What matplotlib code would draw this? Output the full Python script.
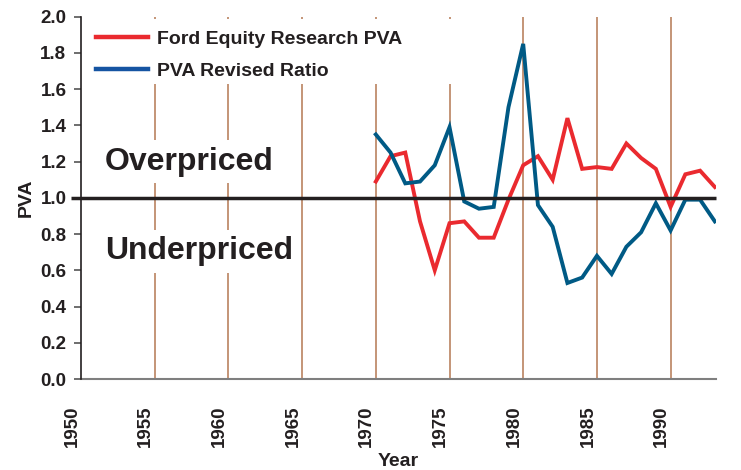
import matplotlib
matplotlib.use("Agg")
import matplotlib.pyplot as plt
import matplotlib.transforms as mtransforms
from matplotlib.lines import Line2D
from matplotlib.patches import Rectangle

years = list(range(1970, 1994))
ford_pva = [1.09, 1.23, 1.25, 0.87, 0.60, 0.86, 0.87, 0.78, 0.78, 0.99,
            1.18, 1.23, 1.10, 1.44, 1.16, 1.17, 1.16, 1.30, 1.22, 1.16,
            0.95, 1.13, 1.15, 1.06]
revised_ratio = [1.35, 1.25, 1.08, 1.09, 1.18, 1.39, 0.98, 0.94, 0.95, 1.50,
                 1.85, 0.96, 0.84, 0.53, 0.56, 0.68, 0.58, 0.73, 0.81, 0.97,
                 0.82, 0.99, 0.99, 0.87]
xtick_years = [1950, 1955, 1960, 1965, 1970, 1975, 1980, 1985, 1990]
grid_years = [1955, 1960, 1965, 1970, 1975, 1980, 1985, 1990]
yticks = [0.0, 0.2, 0.4, 0.6, 0.8, 1.0, 1.2, 1.4, 1.6, 1.8, 2.0]
series_labels = ["Ford Equity Research PVA", "PVA Revised Ratio"]

plt.rcParams['font.family'] = ['Liberation Sans', 'DejaVu Sans']
plt.rcParams['font.weight'] = 'bold'
TXT = '#231f20'
RED = '#ea2a2f'
BLUE = '#005a85'
BLUE_LEG = '#1554a2'
VCOL = '#bf8c6c'

fig = plt.figure(figsize=(7.41, 4.70), dpi=100)
ax = fig.add_axes([81/741, 1-379/470, 635/741, (379-16.7)/470])
ax.set_xlim(1950, 1993.08)
ax.set_ylim(0, 2.0)

for gy in grid_years:
    ax.axvline(gy, color=VCOL, lw=1.3, zorder=1)

# white box behind legend
ax.add_patch(Rectangle((1950.05, 1.627), 26.5, 0.358, facecolor='white',
                       edgecolor='none', zorder=1.5))

ax.plot(years, ford_pva, color=RED, lw=2.8, zorder=3, solid_joinstyle='miter')
ax.plot(years, revised_ratio, color=BLUE, lw=2.8, zorder=3, solid_joinstyle='miter')

# thick reference line at 1.0 extending beyond axis
ax.plot([-0.016, 1.0], [1.0, 1.0], transform=ax.get_yaxis_transform(),
        color='#231f20', lw=2.5, zorder=4, clip_on=False, solid_capstyle='butt')

for label, yv in [("Overpriced", 1.20), ("Underpriced", 0.705)]:
    ax.text(1951.63, yv, label, fontsize=23, fontweight='bold', color=TXT,
            va='center', ha='left', zorder=2,
            bbox=dict(boxstyle='square,pad=0.2', facecolor='white', edgecolor='none'))

handles = [Line2D([], [], color=RED, lw=3.2), Line2D([], [], color=BLUE_LEG, lw=3.2)]
leg = ax.legend(handles, series_labels, loc='upper left',
                bbox_to_anchor=(0.0236, 0.962), borderaxespad=0, borderpad=0,
                frameon=False, handlelength=2.68, handletextpad=0.46,
                labelspacing=0.72, prop=dict(size=14, weight='bold'))
for t in leg.get_texts():
    t.set_color(TXT)

for s in ['top', 'right']:
    ax.spines[s].set_visible(False)
ax.spines['left'].set_color('#231f20')
ax.spines['left'].set_linewidth(1.2)
ax.spines['bottom'].set_color('#7f7f7f')
ax.spines['bottom'].set_linewidth(1.5)
ax.spines['left'].set_zorder(5)

ax.set_yticks(yticks)
ax.set_yticklabels([f"{v:.1f}" for v in yticks], fontweight='bold')
ax.tick_params(axis='y', direction='out', length=5, width=1.2, color='#555555',
               labelsize=13.5, labelcolor=TXT, pad=5.5)

ax.set_xticks(xtick_years)
ax.set_xticklabels([str(y) for y in xtick_years], rotation=90, fontweight='bold',
                   fontsize=13.5)
ax.tick_params(axis='x', length=0, labelcolor=TXT, pad=19)
off = mtransforms.ScaledTranslation(-9/100, 0, fig.dpi_scale_trans)
for lbl in ax.get_xticklabels():
    lbl.set_transform(lbl.get_transform() + off)

ax.set_xlabel("Year", fontsize=14, fontweight='bold', color=TXT, labelpad=4)
ax.set_ylabel("PVA", fontsize=14, fontweight='bold', color=TXT, labelpad=4)

fig.savefig("out.png", dpi=100)
